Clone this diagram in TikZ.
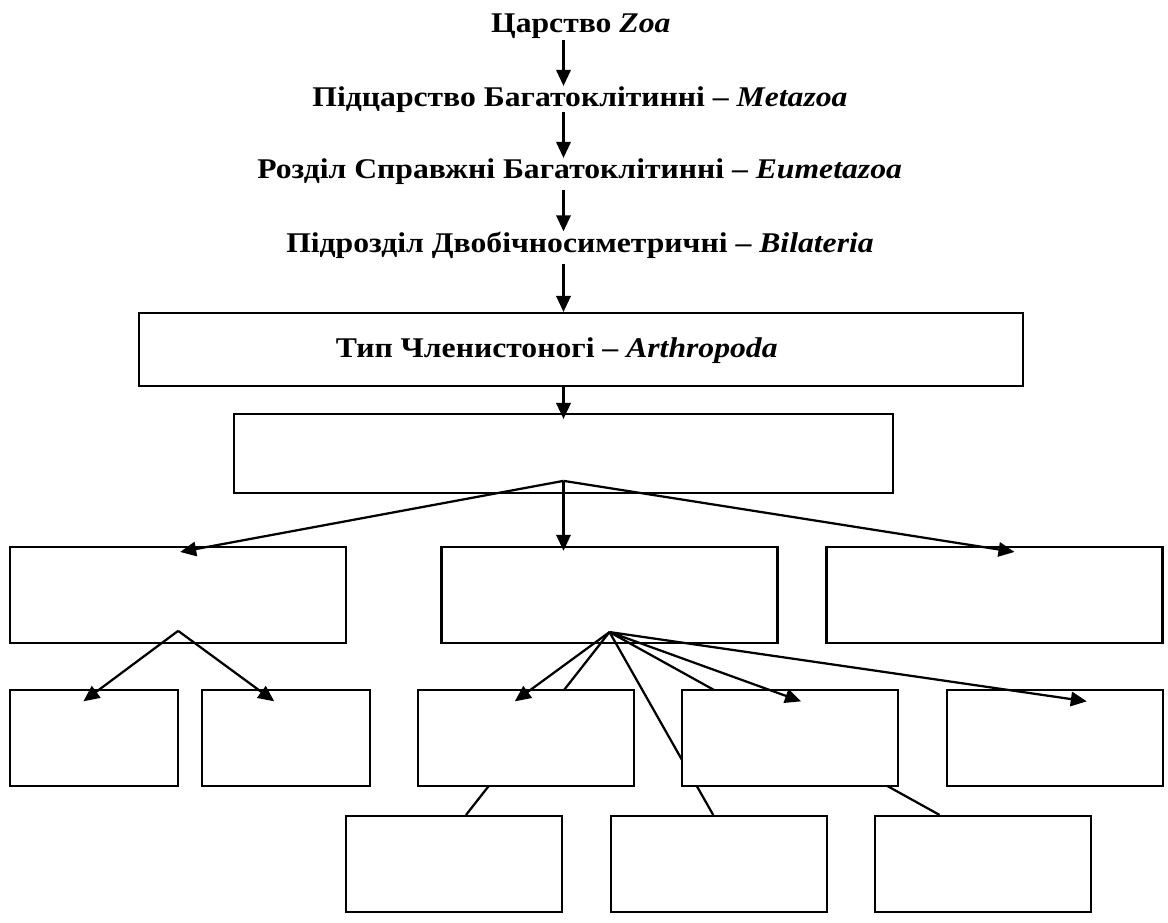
\documentclass[tikz,border=0pt]{standalone}
\usepackage{fontspec}
\setmainfont{Liberation Serif}[FakeStretch=1.11]
\usepackage{tikz}
\usetikzlibrary{arrows.meta,positioning,calc}

\begin{document}
\begin{tikzpicture}[
        font=\fontsize{20.3}{24}\selectfont\bfseries,
        >={Triangle[length=0.4cm, width=0.36cm]},
        % 标题文字 (无边框, 基线对齐)
        title_node/.style={inner sep=0pt, anchor=base},
        % 空白分类框
        tax_box/.style={draw=black, fill=white, line width=1.5pt, minimum height=2.4cm, inner sep=0pt},
        wide_box/.style={tax_box, minimum width=8.4cm},
        small_box/.style={tax_box, minimum width=4.21cm},
        mid_box/.style={tax_box, minimum width=5.4cm},
        arrow/.style={->, line width=1.6pt, draw=black},
        link/.style={line width=1.6pt, draw=black}
    ]

    \useasboundingbox (0,0) rectangle (29.2,-23.05);

    % ==========================================
    % 1. 上部标题链 (文字中心 X = 14.5, 箭头 X = 14.09)
    % ==========================================
    \node[title_node] (zoa) at (14.52,-0.8) {Царство \textit{Zoa}};
    \node[title_node] (meta) at (14.5,-2.65) {Підцарство Багатоклітинні – \textit{Metazoa}};
    \node[title_node] (eumeta) at (14.49,-4.45) {Розділ Справжні Багатоклітинні – \textit{Eumetazoa}};
    \node[title_node] (bila) at (14.5,-6.3) {Підрозділ Двобічносиметричні – \textit{Bilateria}};

    % --- 类型框 ---
    \node[tax_box, minimum width=22.1cm, minimum height=1.825cm] (arthro) at (14.525,-8.7375) {};
    \node[title_node] (arthro_txt) at (13.92,-8.925) {Тип Членистоногі – \textit{Arthropoda}};

    \node[tax_box, minimum width=16.475cm, minimum height=1.975cm] (sub_box) at (14.0875,-11.3375) {};

    % ==========================================
    % 2. 第二层 (Y = -14.875) 与第四层 (Y = -21.6)
    % ==========================================
    \node[wide_box] (cls_l) at (4.454,-14.875) {};
    \node[wide_box] (cls_m) at (15.2375,-14.875) {};
    \node[wide_box] (cls_r) at (24.8625,-14.875) {};

    \node[mid_box] (fam_1) at (11.35,-21.6) {};
    \node[mid_box] (fam_2) at (17.97,-21.6) {};
    \node[mid_box] (fam_3) at (24.57,-21.6) {};

    % 分叉点
    \coordinate (sub_ap) at ([yshift=0.33cm]sub_box.south);
    \coordinate (l_ap) at ([yshift=0.33cm]cls_l.south);
    \coordinate (m_ap) at ([yshift=0.3cm]cls_m.south);

    % --- 无箭头连线 (被第三层框遮住) ---
    \draw[link] (m_ap) -- ([xshift=0.3cm]fam_1.north);
    \draw[link] (m_ap) -- ([xshift=-0.14cm]fam_2.north);
    \draw[link] (m_ap) -- ([xshift=-1.08cm]fam_3.north);

    % ==========================================
    % 3. 第三层 (Y = -18.46)
    % ==========================================
    \node[small_box] (ord_1) at (2.345,-18.46) {};
    \node[small_box] (ord_2) at (7.156,-18.46) {};
    \node[mid_box] (ord_3) at (13.15,-18.46) {};
    \node[mid_box] (ord_4) at (19.756,-18.46) {};
    \node[mid_box] (ord_5) at (26.37,-18.46) {};

    % ==========================================
    % 4. 箭头
    % ==========================================
    \draw[arrow] ([yshift=-0.05cm]zoa.south -| sub_box.north) -- (meta.north -| sub_box.north);
    \draw[arrow] (meta.south -| sub_box.north) -- (eumeta.north -| sub_box.north);
    \draw[arrow] ([yshift=-0.15cm]eumeta.south -| sub_box.north) -- (bila.north -| sub_box.north);
    \draw[arrow] ([yshift=-0.15cm]bila.south -| sub_box.north) -- (arthro.north -| sub_box.north);
    \draw[arrow] (arthro.south -| sub_box.north) -- ([yshift=-0.15cm]sub_box.north);

    \draw[arrow] (sub_ap) -- ([xshift=0.05cm,yshift=-0.15cm]cls_l.north);
    \draw[arrow] (sub_ap) -- ($(sub_ap |- cls_m.north)+(0,-0.12)$);
    \draw[arrow] (sub_ap) -- ([xshift=0.5cm,yshift=-0.15cm]cls_r.north);

    \draw[arrow] (l_ap) -- ([xshift=-0.26cm,yshift=-0.3cm]ord_1.north);
    \draw[arrow] (l_ap) -- ([xshift=-0.3cm,yshift=-0.3cm]ord_2.north);

    \draw[arrow] (m_ap) -- ([xshift=-0.28cm,yshift=-0.3cm]ord_3.north);
    \draw[arrow] (m_ap) -- ([xshift=0.27cm,yshift=-0.3cm]ord_4.north);
    \draw[arrow] (m_ap) -- ([xshift=0.8cm,yshift=-0.3cm]ord_5.north);

\end{tikzpicture}
\end{document}
